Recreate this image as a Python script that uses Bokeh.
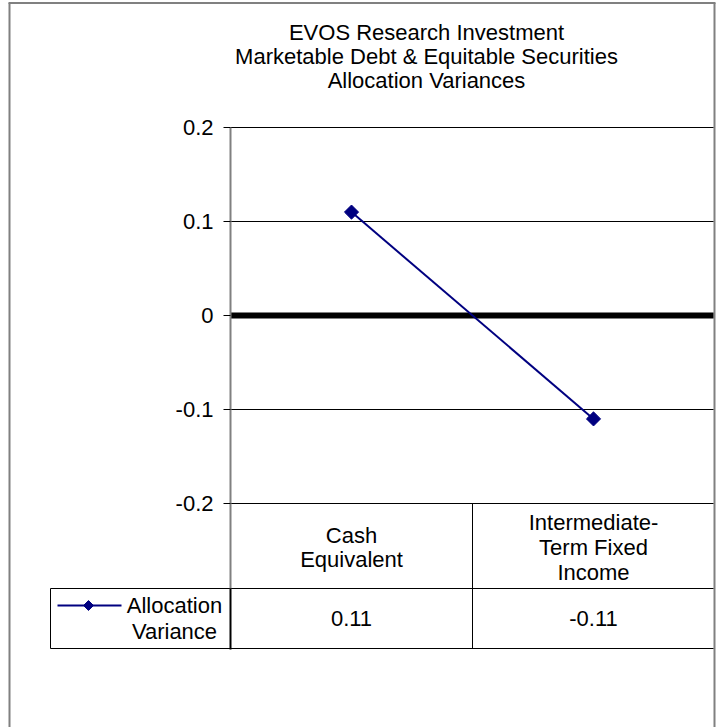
import numpy as np
from bokeh.plotting import figure
from bokeh.models import Range1d, LinearAxis, FixedTicker
from bokeh.core.properties import value
from bokeh.embed import file_html
from bokeh.resources import INLINE

# ---- data ----
title_lines = ["EVOS Research Investment", "Marketable Debt & Equitable Securities", "Allocation Variances"]
categories = ["Cash\nEquivalent", "Intermediate-\nTerm Fixed\nIncome"]
series_name = "Allocation\nVariance"
variance = [0.11, -0.11]
y_ticks = [-0.2, -0.1, 0.0, 0.1, 0.2]
y_tick_labels = ["-0.2", "-0.1", "0", "0.1", "0.2"]

# ---- layout (canvas pixels) ----
W, H = 722, 727
PX_PER_UNIT = 940.0
ZERO_Y = 315.0
CAT0_X = 351.0
CAT_W = 242.0

def yv(py):
    return (ZERO_Y - py) / PX_PER_UNIT

def xv(px):
    return (px - CAT0_X) / CAT_W

FONT = "Liberation Sans"
FS = "22px"
NAVY = "#000080"
GREY = "#808080"

p = figure(width=W, height=H, output_backend="svg", toolbar_location=None,
           x_range=Range1d(xv(0), xv(W)), y_range=Range1d(yv(H), yv(0)),
           min_border=0, x_axis_type=None, y_axis_type=None)
p.outline_line_color = None
p.grid.visible = False
p.background_fill_color = "white"
p.border_fill_color = "white"

# outer chart border (left, top, right)
p.segment(x0=[xv(9), xv(8), xv(714)], y0=[yv(H), yv(2.5), yv(2.5)],
          x1=[xv(9), xv(715), xv(714)], y1=[yv(2.5), yv(2.5), yv(H)],
          line_color=GREY, line_width=2)

# horizontal gridlines (non-zero ticks)
grid_ticks = [t for t in y_ticks if t != 0]
p.segment(x0=[xv(230)] * len(grid_ticks), x1=[xv(713)] * len(grid_ticks),
          y0=grid_ticks, y1=grid_ticks, line_color="black", line_width=1)
# zero line
p.segment(x0=[xv(230)], x1=[xv(713)], y0=[0], y1=[0], line_color="black", line_width=6)

# y axis placed at the plot's left edge
ax = LinearAxis(fixed_location=xv(230), bounds=(min(y_ticks), max(y_ticks)),
                ticker=FixedTicker(ticks=y_ticks, minor_ticks=[]))
ax.major_label_overrides = {t: l for t, l in zip(y_ticks, y_tick_labels)}
ax.axis_line_color = GREY
ax.axis_line_width = 2
ax.major_tick_in = 0
ax.major_tick_out = 7
ax.major_tick_line_color = "black"
ax.minor_tick_line_color = None
ax.major_label_standoff = 10
ax.major_label_text_font = FONT
ax.major_label_text_font_size = FS
ax.major_label_text_color = "black"
p.add_layout(ax, "left")

# title
p.text(x=[xv(426)], y=[yv(56)], text=["\n".join(title_lines)],
       text_font=value(FONT), text_font_size=FS, text_align="center",
       text_baseline="middle", text_color="black", text_line_height=0.96)

# data table grid
p.segment(x0=[xv(50), xv(50), xv(50), xv(472)], x1=[xv(713), xv(713), xv(50), xv(472)],
          y0=[yv(588), yv(648), yv(588), yv(503)], y1=[yv(588), yv(648), yv(648), yv(648)],
          line_color="black", line_width=1)
p.segment(x0=[xv(230)], x1=[xv(230)], y0=[yv(503)], y1=[yv(588)],
          line_color=GREY, line_width=2)
p.segment(x0=[xv(230)], x1=[xv(230)], y0=[yv(588)], y1=[yv(649)],
          line_color="black", line_width=2)

idx = list(range(len(categories)))
# category labels
p.text(x=idx, y=[yv(547)] * len(idx), text=categories, text_font=value(FONT),
       text_font_size=FS, text_align="center", text_baseline="middle",
       text_color="black", text_line_height=0.99)
# values row
p.text(x=idx, y=[yv(618)] * len(idx), text=[f"{v:.2f}" for v in variance],
       text_font=value(FONT), text_font_size=FS, text_align="center",
       text_baseline="middle", text_color="black")

# legend key in table
p.segment(x0=[xv(57)], x1=[xv(121)], y0=[yv(605)], y1=[yv(605)], line_color=NAVY, line_width=2)
p.scatter(x=[xv(88)], y=[yv(605)], marker="square", angle=np.pi / 4, size=7, color=NAVY)
p.text(x=[xv(174)], y=[yv(618)], text=[series_name], text_font=value(FONT),
       text_font_size=FS, text_align="center", text_baseline="middle",
       text_color="black", text_line_height=1.03)

# series
p.line(x=idx, y=variance, line_color=NAVY, line_width=2)
p.scatter(x=idx, y=variance, marker="square", angle=np.pi / 4, size=10, color=NAVY)

open("out.html", "w").write(file_html(p, INLINE))
